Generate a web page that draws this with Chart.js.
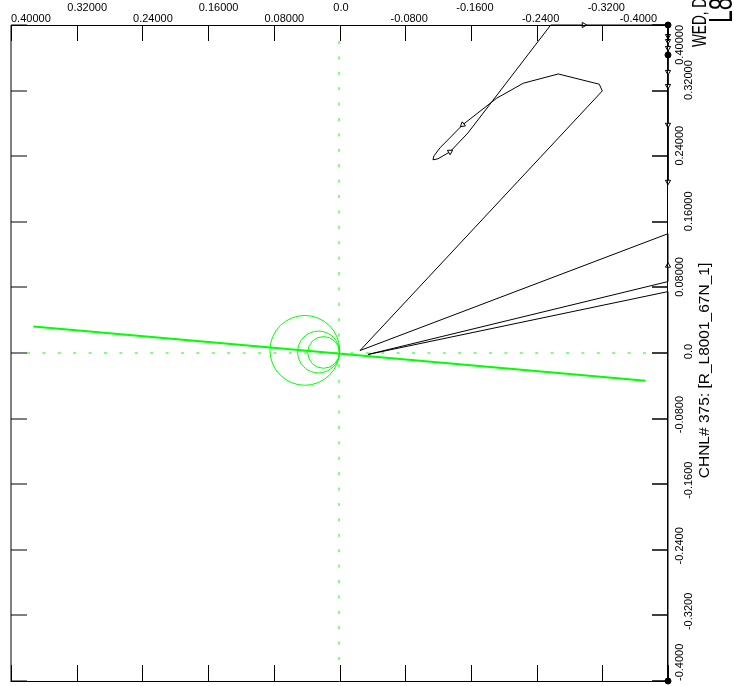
<!DOCTYPE html>
<html>
<head>
<meta charset="utf-8">
<style>
  html, body { margin: 0; padding: 0; background: #fff; overflow: hidden; }
  canvas { display: block; }
</style>
<script src="https://cdn.jsdelivr.net/npm/chart.js@4/dist/chart.umd.min.js"></script>
</head>
<body>
<canvas id="plot" width="734" height="686"></canvas>
<script>
// axis ticks (same on both axes, listed from +0.4 down to -0.4)
const tickValues = [0.4, 0.32, 0.24, 0.16, 0.08, 0, -0.08, -0.16, -0.24, -0.32, -0.4];
const xTickLabels = ['0.40000', '0.32000', '0.24000', '0.16000', '0.08000', '0.0', '-0.0800', '-0.1600', '-0.2400', '-0.3200', '-0.4000'];
const yTickLabels = ['0.40000', '0.32000', '0.24000', '0.16000', '0.08000', '0.0', '-0.0800', '-0.1600', '-0.2400', '-0.3200', '-0.4000'];

const chanTitle = 'CHNL# 375: [R_L8001_67N_1]';
const dateText = 'WED, D';
const nameText = 'L8';

// green characteristic line
const charX = [0.3728, -0.3727];
const charY = [0.0323, -0.0337];

// green zone circles (centre and radius, in axis units)
const zoneX = [0.0422, 0.0255, 0.0194];
const zoneY = [0.0032, 0.0012, 0.0007];
const zoneR = [0.0425, 0.0255, 0.0193];

// black impedance locus, '' = no marker, 'tri' = arrow, 'dot' = filled dot
const locusX = [-0.4, -0.4, -0.0347, -0.4, -0.4, -0.4, -0.0250, -0.3200, -0.3163, -0.2664,
                -0.2238, -0.1914, -0.1500, -0.1224, -0.1151, -0.1138, -0.1199, -0.1346, -0.1565, -0.2572,
                -0.2974, -0.4, -0.4, -0.4, -0.4, -0.4, -0.4, -0.4, -0.4, -0.4];
const locusY = [-0.4, 0.0749, -0.0018, 0.0871, 0.1065, 0.1455, 0.0030, 0.3196, 0.3278, 0.3403,
                0.3290, 0.3107, 0.2783, 0.2502, 0.2405, 0.2356, 0.2368, 0.2454, 0.2685, 0.4,
                0.4, 0.4, 0.3866, 0.3805, 0.3720, 0.3635, 0.3428, 0.3257, 0.2783, 0.2088];
const locusMark = ['dot', '', '', '', 'tri', '', '', '', '', '',
                   '', '', 'tri', '', '', '', '', 'tri', '', '',
                   'tri', 'dot', 'tri', 'tri', 'tri', 'dot', 'tri', 'tri', 'tri', 'tri'];

const TICK_LEN = 16;
const LABEL_FONT = '11px "Liberation Sans", Arial, sans-serif';

function pxPerUnit(chart) {
  const s = chart.scales.x;
  return Math.abs(s.getPixelForValue(1) - s.getPixelForValue(0));
}

function tickShift(v) {
  if (v > 1e-9) return 10.5;
  if (v < -1e-9) return 4;
  return 1.5;
}

function arrowAngle(ctx) {
  const i = ctx.dataIndex;
  const j = i > 0 ? i - 1 : i + 1;
  const sx = ctx.chart.scales.x, sy = ctx.chart.scales.y;
  let dx = sx.getPixelForValue(locusX[i]) - sx.getPixelForValue(locusX[j]);
  let dy = sy.getPixelForValue(locusY[i]) - sy.getPixelForValue(locusY[j]);
  if (i === 0) { dx = -dx; dy = -dy; }
  return Math.atan2(dx, -dy) * 180 / Math.PI;
}

const axisFrame = {
  id: 'axisFrame',
  beforeDatasetsDraw(chart) {
    const { ctx, chartArea: a, scales: { x, y } } = chart;
    const x0 = Math.floor(x.getPixelForValue(0));
    const y0 = Math.floor(y.getPixelForValue(0));
    ctx.save();
    ctx.strokeStyle = '#00ff00';
    ctx.lineWidth = 1;
    ctx.setLineDash([3, 12.4]);
    ctx.beginPath();
    ctx.moveTo(a.left + TICK_LEN, y0); ctx.lineTo(a.right - TICK_LEN, y0);
    ctx.moveTo(x0, a.top + TICK_LEN); ctx.lineTo(x0, a.bottom - TICK_LEN);
    ctx.stroke();
    ctx.restore();
  },
  afterDatasetsDraw(chart) {
    const { ctx, chartArea: a, scales: { x, y } } = chart;
    ctx.save();
    ctx.strokeStyle = '#000';
    ctx.lineWidth = 1;

    // frame
    ctx.beginPath();
    ctx.moveTo(a.left, a.top + 0.5); ctx.lineTo(a.right, a.top + 0.5);
    ctx.moveTo(a.right - 0.5, a.top); ctx.lineTo(a.right - 0.5, a.bottom);
    ctx.moveTo(a.left, a.bottom + 0.5); ctx.lineTo(a.right, a.bottom + 0.5);
    ctx.stroke();
    ctx.beginPath();
    ctx.moveTo(a.left, a.top); ctx.lineTo(a.left, a.bottom + 1);
    ctx.stroke();

    // inward tick marks
    ctx.beginPath();
    tickValues.forEach(v => {
      const px = Math.round(x.getPixelForValue(v)) + 0.5;
      ctx.moveTo(px, a.top); ctx.lineTo(px, a.top + TICK_LEN);
      ctx.moveTo(px, a.bottom); ctx.lineTo(px, a.bottom - TICK_LEN);
      const py = Math.round(y.getPixelForValue(v));
      ctx.moveTo(a.left, py); ctx.lineTo(a.left + TICK_LEN, py);
    });
    ctx.stroke();
    ctx.lineWidth = 1.6;
    ctx.beginPath();
    tickValues.forEach(v => {
      const py = Math.round(y.getPixelForValue(v));
      ctx.moveTo(a.right, py); ctx.lineTo(a.right - TICK_LEN, py);
    });
    ctx.stroke();

    // tick labels, alternating in two rows
    ctx.font = LABEL_FONT;
    ctx.fillStyle = '#000';
    ctx.textAlign = 'left';
    ctx.textBaseline = 'alphabetic';
    tickValues.forEach((v, i) => {
      const txt = xTickLabels[i];
      const w = ctx.measureText(txt).width;
      let start = x.getPixelForValue(v) + tickShift(v) - w / 2;
      start = Math.max(a.left, Math.min(start, a.right - 11 - w));
      ctx.fillText(txt, start, i % 2 ? 10.5 : 21.5);
    });
    tickValues.forEach((v, i) => {
      const txt = yTickLabels[i];
      const w = ctx.measureText(txt).width;
      let startY = y.getPixelForValue(v) - tickShift(v) + w / 2;
      startY = Math.min(a.bottom, Math.max(startY, a.top + w));
      ctx.save();
      ctx.translate(i % 2 ? 692 : 683, startY);
      ctx.rotate(-Math.PI / 2);
      ctx.fillText(txt, 0, 0);
      ctx.restore();
    });

    // channel title and header text
    ctx.save();
    ctx.font = '15.5px "Liberation Sans", Arial, sans-serif';
    ctx.textAlign = 'center';
    ctx.translate(709, 370.5);
    ctx.rotate(-Math.PI / 2);
    ctx.fillText(chanTitle, 0, 0);
    ctx.restore();

    ctx.save();
    ctx.font = '20px "Liberation Sans", Arial, sans-serif';
    ctx.translate(706, 47);
    ctx.rotate(-Math.PI / 2);
    ctx.scale(0.68, 1);
    ctx.fillText(dateText, 0, 0);
    ctx.restore();

    ctx.save();
    ctx.font = '33px "Liberation Sans", Arial, sans-serif';
    ctx.translate(732, 23);
    ctx.rotate(-Math.PI / 2);
    ctx.scale(0.7, 1);
    ctx.fillText(nameText, 0, 0);
    ctx.restore();

    ctx.restore();
  }
};

new Chart(document.getElementById('plot'), {
  type: 'scatter',
  data: {
    datasets: [
      {
        label: 'locus',
        data: locusX.map((v, i) => ({ x: v, y: locusY[i] })),
        showLine: true,
        borderColor: '#000',
        borderWidth: 1,
        tension: 0,
        clip: false,
        pointStyle: ctx => locusMark[ctx.dataIndex] === 'dot' ? 'circle' : 'triangle',
        pointRadius: ctx => locusMark[ctx.dataIndex] === 'dot' ? 3 : (locusMark[ctx.dataIndex] ? 3 : 0),
        pointRotation: ctx => locusMark[ctx.dataIndex] === 'tri' ? arrowAngle(ctx) : 0,
        pointBackgroundColor: ctx => locusMark[ctx.dataIndex] === 'dot' ? '#000' : '#fff',
        pointBorderColor: '#000',
        pointBorderWidth: 1
      },
      {
        label: 'characteristic',
        data: charX.map((v, i) => ({ x: v, y: charY[i] })),
        showLine: true,
        borderColor: '#00ff00',
        borderWidth: 2,
        pointRadius: 0
      },
      {
        label: 'zones',
        data: zoneX.map((v, i) => ({ x: v, y: zoneY[i] })),
        showLine: false,
        pointRadius: ctx => zoneR[ctx.dataIndex] * pxPerUnit(ctx.chart),
        pointBackgroundColor: 'rgba(0,0,0,0)',
        pointBorderColor: '#00ff00',
        pointBorderWidth: 1
      }
    ]
  },
  options: {
    responsive: false,
    animation: false,
    events: [],
    layout: { padding: { left: 11, top: 25, right: 66, bottom: 4 } },
    plugins: { legend: { display: false }, tooltip: { enabled: false } },
    scales: {
      x: { type: 'linear', min: -0.4, max: 0.4, reverse: true, display: false },
      y: { type: 'linear', min: -0.4, max: 0.4, display: false }
    }
  },
  plugins: [axisFrame]
});
</script>
</body>
</html>
